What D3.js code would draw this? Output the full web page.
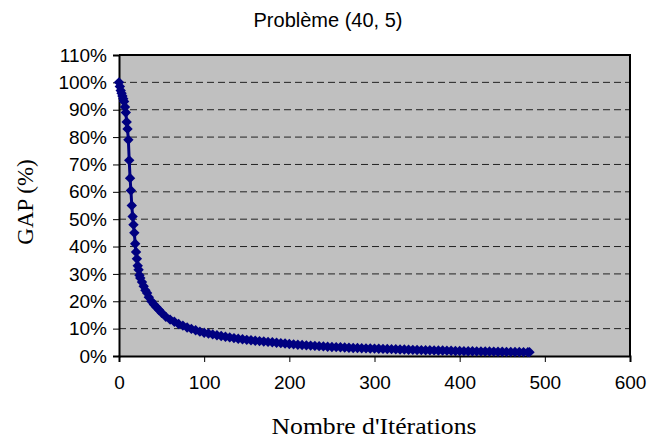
<!DOCTYPE html>
<html>
<head>
<meta charset="utf-8">
<script src="https://cdn.jsdelivr.net/npm/d3@7"></script>
<style>
  body { margin: 0; background: #fff; }
  svg { display: block; }
</style>
</head>
<body>
<svg id="chart" width="650" height="440"></svg>
<script>
// iterations and gap values (%)
const iterations = [
  0, 1, 2, 3, 4, 5, 6, 7, 8, 9, 10, 11, 12, 13, 14, 15, 16, 17, 18, 19,
  20, 21, 22, 23, 24, 25, 27, 29, 31, 33, 35, 38, 41, 44, 47, 50, 55, 60, 65, 70,
  75, 80, 85, 90, 95, 100, 105, 110, 115, 120, 125, 130, 135, 140, 145, 150, 155, 160, 165, 170,
  175, 180, 185, 190, 195, 200, 205, 210, 215, 220, 225, 230, 235, 240, 245, 250, 255, 260, 265, 270,
  275, 280, 285, 290, 295, 300, 305, 310, 315, 320, 325, 330, 335, 340, 345, 350, 355, 360, 365, 370,
  375, 380, 385, 390, 395, 400, 405, 410, 415, 420, 425, 430, 435, 440, 445, 450, 455, 460, 465, 470,
  475, 480, 482
];
const gapValues = [
  100, 98.5, 97, 96, 95, 94, 93, 91, 89, 85.5, 83, 79, 71.5, 65, 60.5, 55, 51, 48, 45, 41,
  38, 35.5, 33, 31.5, 29.5, 28.5, 27, 25.5, 24, 23, 21.5, 20, 18.8, 17.8, 16.8, 15.8, 14.3, 13.3, 12.5, 11.7,
  11.1, 10.4, 9.9, 9.4, 8.9, 8.5, 8.2, 7.9, 7.6, 7.3, 7.05, 6.8, 6.55, 6.3, 6.1, 5.9, 5.75, 5.6, 5.45, 5.3,
  5.15, 5.0, 4.85, 4.7, 4.55, 4.4, 4.25, 4.1, 4.0, 3.9, 3.8, 3.7, 3.6, 3.5, 3.4, 3.3, 3.25, 3.2, 3.1, 3.0,
  2.95, 2.9, 2.85, 2.8, 2.75, 2.7, 2.65, 2.6, 2.55, 2.5, 2.45, 2.4, 2.35, 2.3, 2.25, 2.2, 2.15, 2.1, 2.08, 2.05,
  2.02, 2.0, 1.95, 1.9, 1.85, 1.8, 1.78, 1.75, 1.72, 1.7, 1.68, 1.65, 1.62, 1.6, 1.58, 1.55, 1.52, 1.5, 1.48, 1.45,
  1.43, 1.41, 1.4
];
const xTicks = [0, 100, 200, 300, 400, 500, 600];
const yTicks = [0, 10, 20, 30, 40, 50, 60, 70, 80, 90, 100, 110];

const svg = d3.select("#chart");
const margin = {left: 119, right: 20, top: 55, bottom: 84};
const W = 650, H = 440;
const sans = "Liberation Sans, Arial, sans-serif";
const serif = "Liberation Serif, Times New Roman, serif";

const x = d3.scaleLinear().domain([0, 600]).range([margin.left, W - margin.right]);
const y = d3.scaleLinear().domain([0, 110]).range([H - margin.bottom, margin.top]);

const points = iterations.map((it, i) => ({it: it, gap: gapValues[i]}));

// plot area
svg.append("rect")
    .attr("x", x(0)).attr("y", y(110))
    .attr("width", x(600) - x(0)).attr("height", y(0) - y(110))
    .attr("fill", "#c0c0c0");

// dashed gridlines
svg.append("g")
  .selectAll("line")
  .data(yTicks.filter(d => d > 0 && d < 110))
  .join("line")
    .attr("x1", x(0)).attr("x2", x(600))
    .attr("y1", d => y(d)).attr("y2", d => y(d))
    .attr("stroke", "#222")
    .attr("stroke-width", 1)
    .attr("stroke-dasharray", "7,4");

// top and right frame
svg.append("path")
    .attr("d", `M${x(0)},${y(110)}H${x(600)}V${y(0)}`)
    .attr("fill", "none")
    .attr("stroke", "#000")
    .attr("stroke-width", 2);

// axes
const yAxis = svg.append("g")
    .attr("transform", `translate(${x(0)},0)`)
    .call(d3.axisLeft(y).tickValues(yTicks).tickFormat(d => d + "%").tickSize(6).tickPadding(6));
const xAxis = svg.append("g")
    .attr("transform", `translate(0,${y(0)})`)
    .call(d3.axisBottom(x).tickValues(xTicks).tickSize(6).tickPadding(14));

[yAxis, xAxis].forEach(a => {
  a.select(".domain").attr("stroke", "#000").attr("stroke-width", 2);
  a.selectAll(".tick line").attr("stroke", "#000");
  a.selectAll("text")
      .attr("fill", "#000")
      .style("font-family", sans)
      .style("font-size", "19px");
});

// series line + diamond markers
const line = d3.line().x(d => x(d.it)).y(d => y(d.gap));
svg.append("path")
    .datum(points)
    .attr("d", line)
    .attr("fill", "none")
    .attr("stroke", "#000080")
    .attr("stroke-width", 3);

const r = 5.2;
svg.append("g")
  .selectAll("path")
  .data(points)
  .join("path")
    .attr("transform", d => `translate(${x(d.it)},${y(d.gap)})`)
    .attr("d", `M0,${-r}L${r},0L0,${r}L${-r},0Z`)
    .attr("fill", "#000080");

// titles
svg.append("text")
    .attr("x", 328).attr("y", 27)
    .attr("text-anchor", "middle")
    .style("font-family", sans)
    .style("font-size", "20px")
    .text("Problème (40, 5)");

svg.append("text")
    .attr("x", 374).attr("y", 434)
    .attr("text-anchor", "middle")
    .attr("textLength", 205)
    .attr("lengthAdjust", "spacingAndGlyphs")
    .style("font-family", serif)
    .style("font-size", "24px")
    .text("Nombre d'Itérations");

svg.append("text")
    .attr("transform", "translate(33,202) rotate(-90)")
    .attr("text-anchor", "middle")
    .style("font-family", serif)
    .style("font-size", "23px")
    .text("GAP (%)");
</script>
</body>
</html>
